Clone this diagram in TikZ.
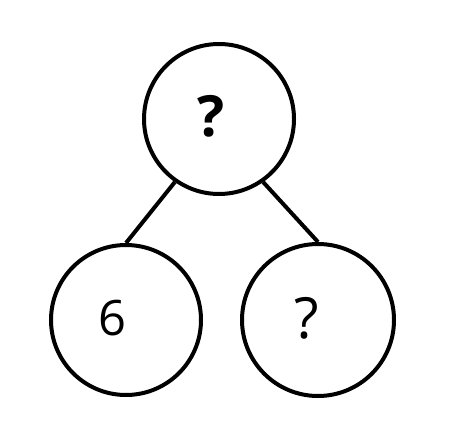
\documentclass[tikz,border=0pt]{standalone}
\usepackage{fontspec}
\setmainfont{Open Sans}
\usepackage{tikz}

\tikzset{
    bubble/.style={draw, circle, line width=4bp, minimum size=150bp, inner sep=0pt},
    numtext/.style={inner sep=0pt, font=\fontsize{49}{49}\selectfont},
    qtext/.style={inner sep=0pt, font=\fontsize{57}{57}\selectfont},
}

\begin{document}
\begin{tikzpicture}[x=1bp,y=-1bp]
        \useasboundingbox (0,0) rectangle (459,443);
        \node[bubble] (whole) at (219,119) {};
        \node[bubble] (partA) at (126,320) {};
        \node[bubble, minimum size=152bp] (partB) at (318,320) {};
        \node[qtext, font=\fontsize{57}{57}\selectfont\bfseries] (wholeq) at (211.5,116) {?};
        \node[numtext] (partAnum) at (112,318) {6};
        \node[qtext] (partBq) at (307,318) {?};
        \draw[line width=4bp] (whole.235) -- (partA.north);
        \draw[line width=4bp] (whole.305) -- (partB.north);
    \end{tikzpicture}
\end{document}
